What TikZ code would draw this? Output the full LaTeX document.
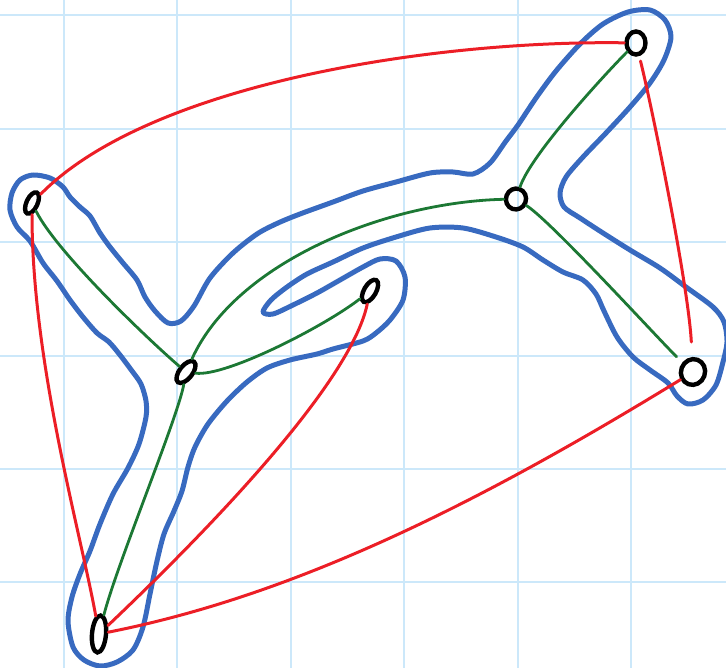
\documentclass[tikz,border=0pt]{standalone}
\usepackage{tikz}
\usetikzlibrary{shapes.geometric}

\definecolor{gridblue}{RGB}{204,232,250}
\definecolor{hullblue}{RGB}{56,106,192}
\definecolor{edgered}{RGB}{236,30,38}
\definecolor{treegreen}{RGB}{28,120,52}

\begin{document}
\begin{tikzpicture}[
        x=1pt, y=-1pt,
        % Define styles
        gridline/.style={draw=gridblue, line width=2.2pt},
        vertex/.style={draw, ellipse, line width=4.4pt, inner sep=0pt},
        hull/.style={draw=hullblue, line width=5pt, line join=round},
        tree/.style={draw=treegreen, line width=2.8pt, line cap=round},
        cotree/.style={draw=edgered, line width=3pt, line cap=round}
    ]
    \useasboundingbox (0,0) rectangle (726,668);
    \clip (0,0) rectangle (726,668);

    % 1. Grid paper
    \foreach \gx in {64,177,291,404,518,631}
        \draw[gridline] (\gx,0) -- (\gx,668);
    \foreach \gy in {15,129,242,356,469,582}
        \draw[gridline] (0,\gy) -- (726,\gy);

    % 2. Hull drawn round the tree
    \draw[hull] plot[smooth cycle, tension=0.5] coordinates {
        (70,197) (80,207) (90,216) (100,233) (110,247) (123,263) (137,280) (145,297)
        (155,311) (168,323) (181,321) (194,306) (210,278) (233,253) (257,234) (278,223)
        (300,214) (333,202) (363,191) (396,182) (430,173) (453,172) (473,174) (490,163)
        (506,141) (518,125) (536,98) (556,71) (580,44) (603,24) (628,12) (650,10)
        (665,20) (671,37) (664,60) (650,83) (630,107) (606,133) (583,157) (566,177)
        (560,193) (564,207) (580,218) (603,233) (630,250) (660,268) (686,287) (713,307)
        (724,322) (727,342) (723,362) (716,385) (703,400) (688,404) (677,396) (668,383)
        (650,370) (633,357) (617,337) (604,311) (596,294) (583,280) (563,272) (543,260)
        (523,247) (496,237) (463,228) (430,228) (396,237) (363,248) (333,262) (307,274)
        (287,287) (271,300) (263,312) (273,314) (293,305) (317,293) (340,280) (363,267)
        (380,259) (396,261) (405,277) (403,300) (390,320) (376,333) (363,341) (333,349)
        (317,354) (290,360) (267,368) (247,382) (227,401) (208,424) (195,447) (188,467)
        (182,491) (174,511) (164,534) (157,561) (150,594) (143,627) (133,650) (117,662)
        (100,666) (84,660) (73,647) (68,621) (72,597) (80,574) (90,551) (100,524)
        (113,494) (128,468) (139,444) (146,417) (146,401) (141,384) (132,371) (120,355)
        (109,342) (97,333) (83,317) (70,300) (57,281) (43,263) (30,241) (17,227)
        (10,210) (12,193) (20,180) (33,175) (50,178) (63,187)};

    % 3. Vertices
    \node[vertex, minimum width=11pt, minimum height=23pt, rotate=-25] (v1) at (32,203) {};
    \node[vertex, minimum width=13pt, minimum height=26pt, rotate=-38] (v2) at (186,372) {};
    \node[vertex, minimum width=14pt, minimum height=37pt, rotate=-5] (v3) at (99,634) {};
    \node[vertex, minimum width=12pt, minimum height=25pt, rotate=-30] (v4) at (370,291) {};
    \node[vertex, minimum width=20pt, minimum height=21pt, rotate=-20] (v5) at (516,199) {};
    \node[vertex, minimum width=19pt, minimum height=23pt] (v6) at (636,43) {};
    \node[vertex, minimum width=24pt, minimum height=26pt, rotate=-20] (v7) at (693,372) {};

    % 4. Red edges
    \draw[cotree] (v1) .. controls +(118,-120) and +(-200,-3) .. (v6);
    \draw[cotree] (v1) .. controls +(0,160) and +(-18,-100) .. (v3);
    \draw[cotree, shorten <=5pt, shorten >=15pt] (v6) .. controls +(15,60) and +(-5,-90) .. (v7);
    \draw[cotree] (v7) .. controls +(-204,125) and +(203,-40) .. (v3);
    \draw[cotree] (v4) .. controls +(-20,95) and +(99,-94) .. (v3);

    % 5. Green tree edges
    \draw[tree] (v1) .. controls +(25,50) and +(-35,-30) .. (v2);
    \draw[tree] (v2) .. controls +(-8,45) and +(18,-70) .. (v3);
    \draw[tree] (v2) .. controls +(40,5) and +(-45,35) .. (v4);
    \draw[tree] (v2) .. controls +(50,-110) and +(-130,3) .. (v5);
    \draw[tree] (v5) .. controls +(15,-45) and +(-28,28) .. (v6);
    \draw[tree, shorten >=8pt] (v5) .. controls +(35,22) and +(-30,-28) .. (v7);
\end{tikzpicture}
\end{document}
